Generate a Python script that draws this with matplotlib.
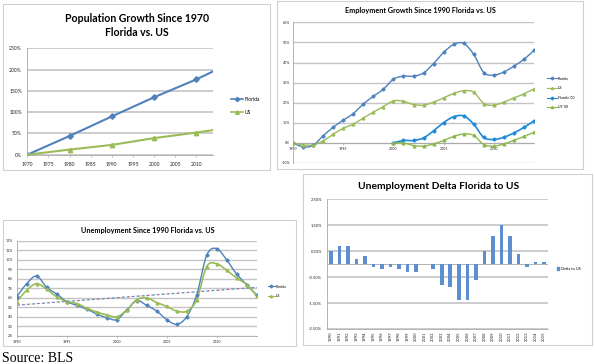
import numpy as np
import matplotlib
matplotlib.use("Agg")
import matplotlib.pyplot as plt
from matplotlib.path import Path
from matplotlib.patches import PathPatch, Rectangle
from matplotlib.lines import Line2D
from matplotlib.ticker import FuncFormatter

# population growth since 1970 (%)
pop_years = [1970, 1980, 1990, 2000, 2010, 2014]
pop_florida = [0, 44, 90, 135, 177, 196]
pop_us = [0, 12, 23, 39, 52, 58]

# employment growth since 1990 / since 2000 (%)
emp_years = list(range(1990, 2015))
emp_florida = [0, -2.0, -1.2, 3.5, 7.8, 11.3, 14.6, 19.3, 23.2, 26.7, 31.7, 33.2, 33.2,
               34.8, 39.5, 45.0, 49.0, 49.5, 44.0, 35.0, 33.7, 35.3, 38.2, 41.6, 46.0]
emp_us = [0, -1.0, -1.0, 1.0, 4.3, 7.3, 9.3, 12.4, 15.3, 18.1, 20.9, 20.7, 19.1,
          18.8, 20.3, 22.4, 24.6, 26.0, 25.2, 19.6, 18.8, 20.3, 22.4, 24.4, 26.9]
emp00_years = list(range(2000, 2015))
emp_florida00 = [0, 1.2, 1.2, 2.5, 6.0, 10.1, 13.0, 13.4, 9.3, 2.7, 1.7, 2.8, 5.0, 7.7, 11.0]
emp_us00 = [0, 0, -1.3, -1.6, -0.5, 1.2, 3.2, 4.5, 3.7, -0.8, -1.6, -0.5, 1.3, 3.2, 5.3]

# unemployment rate (%)
unemp_years = list(range(1990, 2015))
unemp_florida = [6.1, 7.5, 8.3, 7.1, 6.4, 5.6, 5.2, 4.8, 4.3, 3.9, 3.7, 4.7, 5.7, 5.2,
                 4.6, 3.7, 3.2, 4.0, 6.3, 10.5, 11.2, 10.0, 8.5, 7.4, 6.3]
unemp_us = [5.6, 6.8, 7.5, 6.9, 6.1, 5.6, 5.4, 4.9, 4.5, 4.2, 4.0, 4.7, 5.8, 6.0,
            5.5, 5.1, 4.6, 4.6, 5.8, 9.3, 9.6, 8.9, 8.1, 7.4, 6.2]

# delta florida - us (%)
delta_years = [str(y) for y in range(1990, 2016)]
delta_values = [0.5, 0.7, 0.7, 0.2, 0.3, -0.1, -0.2, -0.1, -0.2, -0.3, -0.3, 0.0, -0.2,
                -0.8, -0.9, -1.4, -1.4, -0.6, 0.5, 1.1, 1.5, 1.1, 0.4, -0.1, 0.1, 0.1]

BLUE = '#4F81BD'
GREEN = '#9BBB59'
BLUE2 = '#1C8AD9'
GREEN2 = '#8DB84A'
GRID = '#C4C4C4'
W, H = 595, 364

plt.rcParams['font.family'] = ['Lato', 'DejaVu Sans']


def box(x0, y0, x1, y1):
    # pixel coords (top-left origin) -> figure fraction
    return [x0 / W, 1 - y1 / H, (x1 - x0) / W, (y1 - y0) / H]


def smooth_path(x, y):
    x = np.asarray(x, float)
    y = np.asarray(y, float)
    n = len(x)
    verts = [(x[0], y[0])]
    codes = [Path.MOVETO]
    for i in range(n - 1):
        a = i - 1 if i > 0 else i
        b = i + 2 if i + 2 < n else i + 1
        c1 = (x[i] + (x[i + 1] - x[a]) / 6, y[i] + (y[i + 1] - y[a]) / 6)
        c2 = (x[i + 1] - (x[b] - x[i]) / 6, y[i + 1] - (y[b] - y[i]) / 6)
        verts += [c1, c2, (x[i + 1], y[i + 1])]
        codes += [Path.CURVE4] * 3
    return Path(verts, codes)


def smooth_line(ax, x, y, color, marker, lw=1.0, ms=2.2):
    ax.add_patch(PathPatch(smooth_path(x, y), fill=False, edgecolor=color, lw=lw, zorder=3))
    ax.plot(x, y, linestyle='none', marker=marker, color=color, ms=ms, zorder=4)


def style_axes(ax, fs, grid_lw=1.0):
    for s in ['top', 'right']:
        ax.spines[s].set_visible(False)
    for s in ['left', 'bottom']:
        ax.spines[s].set_color('#A6A6A6')
        ax.spines[s].set_linewidth(0.6)
    ax.grid(axis='y', color=GRID, lw=grid_lw)
    ax.set_axisbelow(True)
    ax.tick_params(labelsize=fs, colors='#222222', length=0)
    ax.tick_params(axis='x', length=1.5, color='#A6A6A6', width=0.5)


def pct(fmt):
    return FuncFormatter(lambda v, p: fmt.format(v))


fig = plt.figure(figsize=(W / 100, H / 100), dpi=100)
fig.patch.set_facecolor('white')

# panel frames
for x0, y0, x1, y1 in [(3, 4, 270, 170), (277, 1, 583, 169), (3, 220, 296, 346), (303, 174, 592, 345)]:
    fig.patches.append(Rectangle((x0 / W, 1 - y1 / H), (x1 - x0) / W, (y1 - y0) / H,
                                 transform=fig.transFigure, fill=False, ec='#D0D0D0', lw=0.8))

# --- population growth ---
ax1 = fig.add_axes(box(27.3, 48.3, 213.3, 154.7))
style_axes(ax1, 3.6, grid_lw=1.2)
ax1.plot(pop_years, pop_florida, color=BLUE, lw=1.5, marker='D', ms=2.8, markevery=[0, 1, 2, 3, 4])
ax1.plot(pop_years, pop_us, color=GREEN, lw=1.5, marker='^', ms=3.2, markevery=[0, 1, 2, 3, 4])
ax1.set_xlim(1970, 2014)
ax1.set_ylim(0, 250)
ax1.set_xticks(range(1970, 2015, 5))
ax1.set_yticks(range(0, 251, 50))
ax1.yaxis.set_major_formatter(pct('{:.0f}%'))
ax1.tick_params(axis='x', pad=4)
ax1.tick_params(axis='y', pad=4)
fig.text(136.7 / W, 1 - 25.5 / H, 'Population Growth Since 1970\nFlorida vs. US', ha='center',
         va='center', fontsize=7.6, fontweight='bold', linespacing=1.25)
h1 = [Line2D([], [], color=BLUE, lw=1.2, marker='D', ms=2.2),
      Line2D([], [], color=GREEN, lw=1.2, marker='^', ms=2.6)]
fig.legend(h1, ['Florida', 'US'], loc='center left', bbox_to_anchor=(231 / W, 1 - 105.5 / H),
           frameon=False, fontsize=3.6, handlelength=2.4, handletextpad=0.3,
           labelspacing=1.6, borderpad=0, borderaxespad=0)

# --- employment growth ---
ax2 = fig.add_axes(box(293, 22.3, 534, 163))
style_axes(ax2, 2.6)
smooth_line(ax2, emp_years, emp_florida, BLUE, 'D', ms=1.6)
smooth_line(ax2, emp_years, emp_us, GREEN, '^', ms=2.0)
smooth_line(ax2, emp00_years, emp_florida00, BLUE2, 'D', lw=1.2, ms=1.6)
smooth_line(ax2, emp00_years, emp_us00, GREEN2, '^', ms=2.0)
ax2.set_xlim(1990, 2014)
ax2.set_ylim(-10, 60)
ax2.set_yticks(range(-10, 61, 10))
ax2.yaxis.set_major_formatter(pct('{:.0f}%'))
ax2.set_xticks(range(1990, 2015, 5))
ax2.spines['bottom'].set_position(('data', 0))
ax2.tick_params(axis='x', pad=1.5)
ax2.tick_params(axis='y', pad=2)
fig.text(420.7 / W, 1 - 11 / H, 'Employment Growth Since 1990 Florida vs. US', ha='center',
         va='center', fontsize=5.2, fontweight='bold')
h2 = [Line2D([], [], color=BLUE, lw=0.8, marker='D', ms=1.4),
      Line2D([], [], color=GREEN, lw=0.8, marker='^', ms=1.6),
      Line2D([], [], color=BLUE2, lw=0.8, marker='D', ms=1.4),
      Line2D([], [], color=GREEN2, lw=0.8, marker='^', ms=1.6)]
fig.legend(h2, ['Florida', 'US', "Florida '00", "US '00"], loc='center left',
           bbox_to_anchor=(547 / W, 1 - 93 / H), frameon=False, fontsize=2.5,
           handlelength=2.9, handletextpad=0.3, labelspacing=1.6, borderpad=0, borderaxespad=0)

# --- unemployment ---
ax3 = fig.add_axes(box(16.7, 241, 256.7, 335.7))
style_axes(ax3, 2.6)
smooth_line(ax3, unemp_years, unemp_florida, BLUE, 'D', ms=1.6)
smooth_line(ax3, unemp_years, unemp_us, GREEN, '^', lw=1.2, ms=2.0)
fit_f = np.polyfit(unemp_years, unemp_florida, 1)
trend = np.polyval(fit_f, [unemp_years[0], unemp_years[-1]])
ax3.plot([unemp_years[0], unemp_years[-1]], trend, color='#5B9BD5', lw=0.8, ls=(0, (3, 1.5)), zorder=2)
ax3.plot([unemp_years[0], unemp_years[-1]], trend, color='#E06060', lw=0.8, ls=(3, (1, 3.5)), zorder=2)
ax3.set_xlim(1990, 2014)
ax3.set_ylim(2, 12)
ax3.set_yticks(range(2, 13))
ax3.yaxis.set_major_formatter(pct('{:.0f}%'))
ax3.set_xticks(range(1990, 2015, 5))
ax3.tick_params(axis='x', pad=1.5)
ax3.tick_params(axis='y', pad=3)
fig.text(148.3 / W, 1 - 230.7 / H, 'Unemployment Since 1990 Florida vs. US', ha='center',
         va='center', fontsize=5.2, fontweight='bold')
h3 = [Line2D([], [], color=BLUE, lw=0.8, marker='D', ms=1.4),
      Line2D([], [], color=GREEN, lw=0.8, marker='^', ms=1.6)]
fig.legend(h3, ['Florida', 'US'], loc='center left', bbox_to_anchor=(268 / W, 1 - 291.5 / H),
           frameon=False, fontsize=2.5, handlelength=2.0, handletextpad=0.3,
           labelspacing=1.7, borderpad=0, borderaxespad=0)

# --- unemployment delta ---
ax4 = fig.add_axes(box(326.7, 199.3, 548.3, 329))
style_axes(ax4, 2.9, grid_lw=1.2)
xpos = np.arange(len(delta_years))
ax4.bar(xpos, delta_values, width=0.42, color='#5B8FCF', zorder=3)
ax4.axhline(0, color='#A6A6A6', lw=0.6, zorder=2)
ax4.set_xlim(-0.5, len(delta_years) - 0.5)
ax4.set_ylim(-2.5, 2.5)
ax4.set_yticks([-2.5, -1.5, -0.5, 0.5, 1.5, 2.5])
ax4.yaxis.set_major_formatter(pct('{:.2f}%'))
ax4.set_xticks(xpos)
ax4.set_xticklabels(delta_years, rotation=90, fontsize=3.0)
ax4.tick_params(axis='x', length=0, pad=1.5)
ax4.tick_params(axis='y', pad=3.5)
fig.text(438.3 / W, 1 - 186.7 / H, 'Unemployment Delta Florida to US', ha='center',
         va='center', fontsize=7.4, fontweight='bold')
h4 = [Rectangle((0, 0), 1, 1, color='#5B8FCF')]
fig.legend(h4, ['Delta to US'], loc='center left', bbox_to_anchor=(557 / W, 1 - 269 / H),
           frameon=False, fontsize=2.8, handlelength=0.6, handleheight=0.6,
           handletextpad=0.5, borderpad=0, borderaxespad=0)

fig.text(2 / W, 1 - 359 / H, 'Source: BLS', ha='left', va='center', fontsize=10,
         family=['Liberation Serif', 'DejaVu Serif'])

fig.savefig('out.png', dpi=100)
